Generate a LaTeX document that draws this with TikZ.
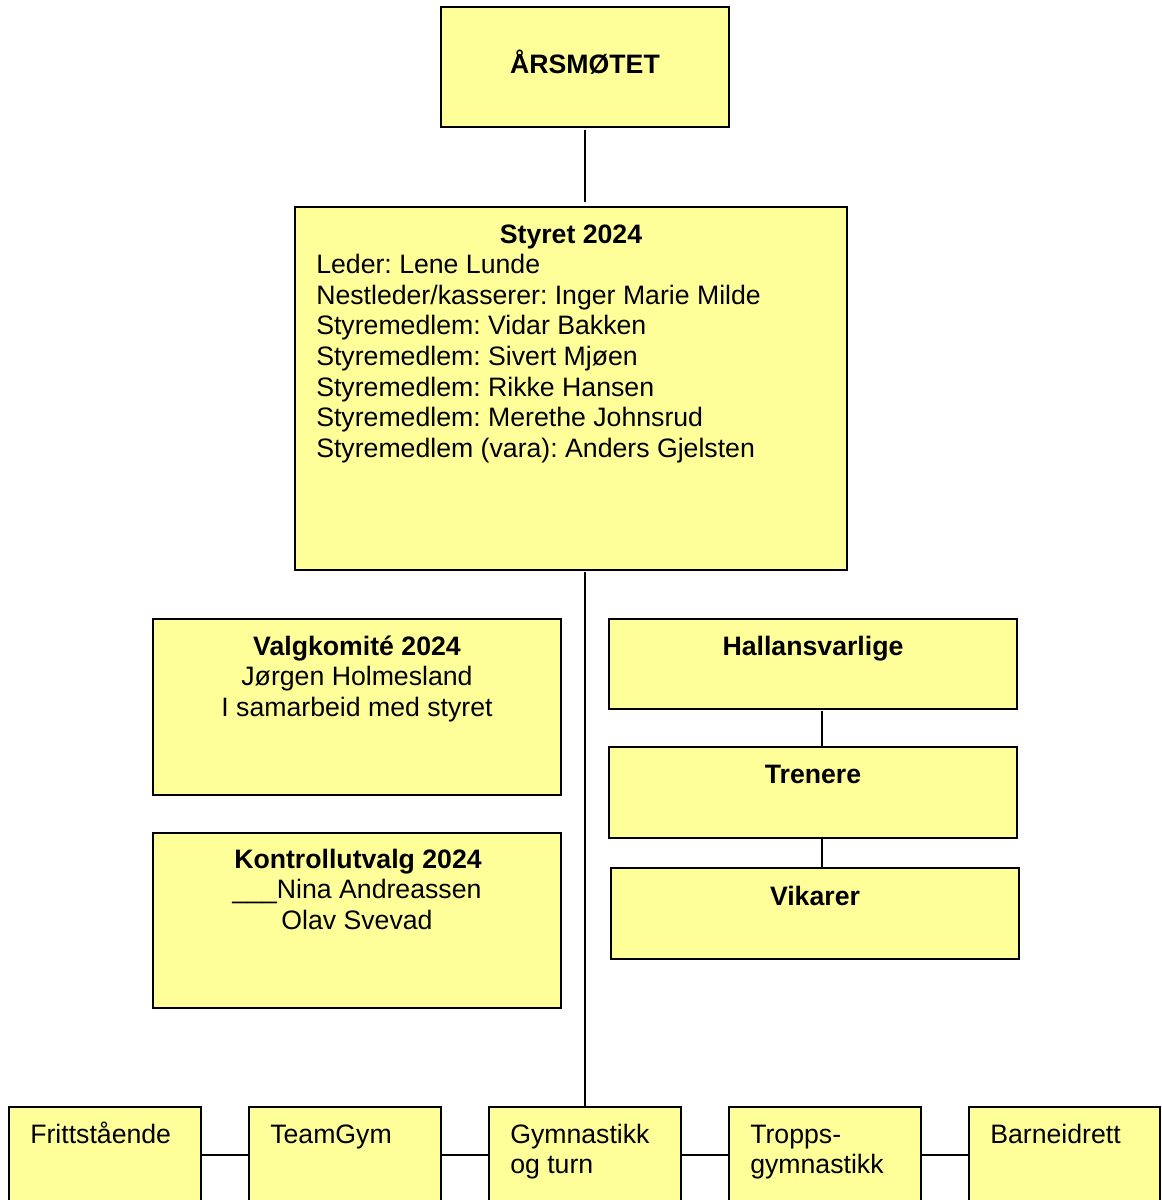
\documentclass[tikz,border=0pt]{standalone}
\usepackage{fontspec}
\setmainfont{Liberation Sans}
\usetikzlibrary{fit}
\definecolor{gul}{RGB}{255,255,153}
\frenchspacing
\begin{document}
\begin{tikzpicture}[x=0.75pt,y=-0.75pt,
	boks/.style={draw=black, line width=1.1pt, fill=gul, inner sep=0pt},
	tekst/.style={font=\fontsize{20}{24}\selectfont, inner sep=0pt},
	linje/.style={line width=1.1pt}]
	\useasboundingbox (0,0) rectangle (1161,1200);
	% boksene
	\node[boks, fit={(441,7) (729,127)}] (aarsmote) {};
	\node[boks, fit={(295,207) (847,570)}] (styret) {};
	\node[boks, fit={(153,619) (561,795)}] (valg) {};
	\node[boks, fit={(153,833) (561,1008)}] (kontroll) {};
	\node[boks, fit={(609,619) (1017,709)}] (hall) {};
	\node[boks, fit={(609,747) (1017,838)}] (trenere) {};
	\node[boks, fit={(611,868) (1019,959)}] (vikarer) {};
	\node[boks, fit={(9,1107) (201,1203)}] (fritt) {};
	\node[boks, fit={(249,1107) (441,1203)}] (teamgym) {};
	\node[boks, fit={(489,1107) (681,1203)}] (gym) {};
	\node[boks, fit={(729,1107) (921,1203)}] (tropp) {};
	\node[boks, fit={(969,1107) (1160,1203)}] (barn) {};
	% tekster
	\node[tekst, anchor=base] (aarsmote-tekst) at (585,73) {\bfseries ÅRSMØTET};
	\node[tekst, anchor=base] (styret-tittel) at (571,243) {\bfseries Styret 2024};
	\foreach \navn [count=\i] in {Leder: Lene Lunde, Nestleder/kasserer: Inger Marie Milde,
		Styremedlem: Vidar Bakken, Styremedlem: Sivert Mjøen, Styremedlem: Rikke Hansen,
		Styremedlem: Merethe Johnsrud, Styremedlem (vara): Anders Gjelsten}
		\node[tekst, anchor=base west] (styret-\i) at (316,243+30.6*\i) {\navn};
	\node[tekst, anchor=base] (valg-tittel) at (357,655) {\bfseries Valgkomité 2024};
	\node[tekst, anchor=base] (valg-1) at (357,685.6) {Jørgen Holmesland};
	\node[tekst, anchor=base] (valg-2) at (357,716.2) {I samarbeid med styret};
	\node[tekst, anchor=base] (kontroll-tittel) at (358,868) {\bfseries Kontrollutvalg 2024};
	\node[tekst, anchor=base] (kontroll-1) at (357,898.6) {\_\_\_Nina Andreassen};
	\node[tekst, anchor=base] (kontroll-2) at (357,929.2) {Olav Svevad};
	\node[tekst, anchor=base] (hall-tittel) at (813,655) {\bfseries Hallansvarlige};
	\node[tekst, anchor=base] (trenere-tittel) at (813,783) {\bfseries Trenere};
	\node[tekst, anchor=base] (vikarer-tittel) at (815,905) {\bfseries Vikarer};
	\node[tekst, anchor=base west] (fritt-tekst) at (30,1143) {Frittstående};
	\node[tekst, anchor=base west] (teamgym-tekst) at (270,1143) {TeamGym};
	\node[tekst, anchor=base west] (gym-1) at (510,1143) {Gymnastikk};
	\node[tekst, anchor=base west] (gym-2) at (510,1173.6) {og turn};
	\node[tekst, anchor=base west] (tropp-1) at (750,1143) {Tropps-};
	\node[tekst, anchor=base west] (tropp-2) at (750,1173.6) {gymnastikk};
	\node[tekst, anchor=base west] (barn-tekst) at (990,1143) {Barneidrett};
	% linjer
	\coordinate (hoyre) at (822,0);
	\draw[linje, shorten <=2pt, shorten >=3.5pt] (aarsmote.south) -- (aarsmote.south |- styret.north);
	\draw[linje, shorten <=1pt] (gym.north |- styret.south) -- (gym.north);
	\draw[linje, shorten <=1pt] (hoyre |- hall.south) -- (hoyre |- trenere.north);
	\draw[linje] (hoyre |- trenere.south) -- (hoyre |- vikarer.north);
	\draw[linje] (fritt.east) -- (teamgym.west);
	\draw[linje] (teamgym.east) -- (gym.west);
	\draw[linje] (gym.east) -- (tropp.west);
	\draw[linje] (tropp.east) -- (barn.west);
\end{tikzpicture}
\end{document}
